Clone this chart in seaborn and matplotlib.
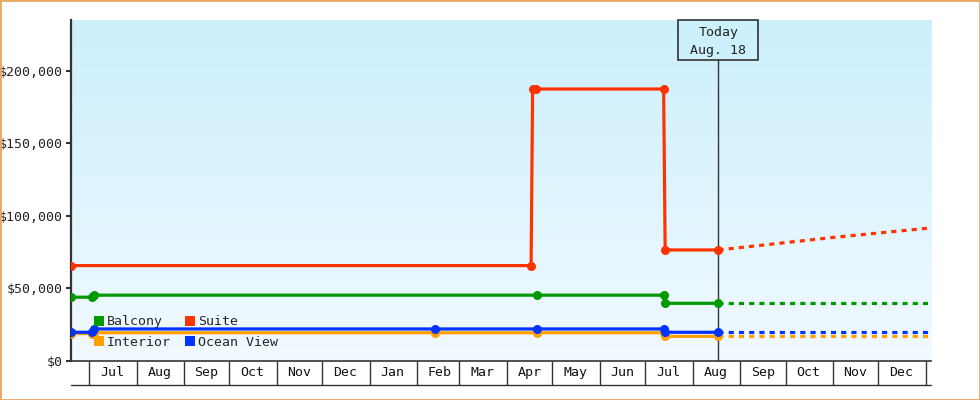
import numpy as np
import pandas as pd
import matplotlib
matplotlib.use('Agg')
import matplotlib.pyplot as plt
import matplotlib.dates as mdates
import matplotlib.ticker as mticker
from matplotlib.patches import Rectangle
from matplotlib.lines import Line2D
import seaborn as sns

# ---------------- data ----------------
balcony_dates = ['2012-06-19', '2012-07-03', '2012-07-04', '2013-04-21', '2013-07-13', '2013-07-14', '2013-08-18']
balcony_vals = [43800, 43800, 45200, 45200, 45200, 39600, 39600]

suite_dates = ['2012-06-19', '2013-04-17', '2013-04-18', '2013-04-20', '2013-07-13', '2013-07-14', '2013-08-18']
suite_vals = [65600, 65600, 187400, 187400, 187400, 76400, 76400]

ocean_dates = ['2012-06-19', '2012-07-03', '2012-07-04', '2013-02-13', '2013-04-21', '2013-07-13', '2013-07-14', '2013-08-18']
ocean_vals = [19600, 19600, 21900, 21900, 21900, 21900, 19600, 19600]

interior_dates = ['2012-06-19', '2012-07-03', '2012-07-04', '2013-02-13', '2013-04-21', '2013-07-13', '2013-07-14', '2013-08-18']
interior_vals = [18700, 18700, 19300, 19300, 19300, 19300, 16800, 16800]

forecast_dates = ['2013-08-18 00:00', '2013-11-01 00:00', '2014-01-04 12:00']
balcony_fc = [39600, 39600, 39600]
suite_fc = [76400, 85000, 91600]
ocean_fc = [19600, 19600, 19600]
interior_fc = [16800, 16800, 16800]

series_names = ['Interior', 'Ocean View', 'Balcony', 'Suite']
colors = {'Balcony': '#009900', 'Suite': '#ff3300', 'Interior': '#ffa000', 'Ocean View': '#0033ff'}
y_ticks = [0, 50000, 100000, 150000, 200000]
today = '2013-08-18'
today_label = 'Today\nAug. 18'
x_start, x_end = '2012-06-19 00:00', '2014-01-04 12:00'
y_max = 235000

# ---------------- style ----------------
sns.set_style('white')
plt.rcParams['font.family'] = ['DejaVu Sans Mono', 'DejaVu Sans']
plt.rcParams['font.size'] = 9.5
dark = '#333333'

fig = plt.figure(figsize=(9.8, 4.0), dpi=100)
W, H = 980, 400
ax = fig.add_axes([71 / W, 39.3 / H, 860 / W, 340.7 / H])

# gradient background
grad = np.linspace(0, 1, 256)[:, None]
top_c = np.array([0.80, 0.94, 0.99])
bot_c = np.array([0.945, 0.978, 1.0])
img = top_c[None, None, :] * (1 - grad[:, :, None]) + bot_c[None, None, :] * grad[:, :, None]
ax.imshow(img, extent=[0, 1, 0, 1], transform=ax.transAxes, aspect='auto', zorder=0)

data = {
    'Balcony': (balcony_dates, balcony_vals, balcony_fc),
    'Suite': (suite_dates, suite_vals, suite_fc),
    'Interior': (interior_dates, interior_vals, interior_fc),
    'Ocean View': (ocean_dates, ocean_vals, ocean_fc),
}

for name in series_names:
    d, v, fc = data[name]
    sns.lineplot(x=pd.to_datetime(d, format='ISO8601'), y=v, ax=ax, color=colors[name], lw=2.3,
                 marker='o', markersize=6.5, markeredgewidth=0, zorder=3, sort=False)
    sns.lineplot(x=pd.to_datetime(forecast_dates, format='ISO8601'), y=fc, ax=ax, color=colors[name], lw=2.3,
                 linestyle=(0, (1.6, 1.6)), zorder=3, sort=False)

ax.set_xlim(pd.Timestamp(x_start), pd.Timestamp(x_end))
ax.set_ylim(0, y_max)
ax.set_xlabel('')
ax.set_ylabel('')

# y axis
ax.set_yticks(y_ticks)
ax.yaxis.set_major_formatter(mticker.FuncFormatter(lambda v, p: '${:,.0f}'.format(v)))
ax.tick_params(axis='y', which='major', left=True, direction='out', length=3.8, width=1.5,
               color=dark, pad=2.4, labelsize=9.5, labelcolor='#222222')

# x axis: month boxes
ax.xaxis.set_major_locator(mdates.MonthLocator())
ax.xaxis.set_major_formatter(mticker.NullFormatter())
ax.xaxis.set_minor_locator(mdates.MonthLocator(bymonthday=16))
ax.xaxis.set_minor_formatter(mdates.DateFormatter('%b'))
ax.tick_params(axis='x', which='major', bottom=True, direction='out', length=17.5, width=1.0, color=dark)
ax.tick_params(axis='x', which='minor', bottom=True, length=0, pad=4.0, labelsize=9.5, labelcolor='#111111')

for s in ['top', 'right']:
    ax.spines[s].set_visible(False)
ax.spines['left'].set_color(dark)
ax.spines['left'].set_linewidth(1.6)
ax.spines['bottom'].set_color(dark)
ax.spines['bottom'].set_linewidth(1.2)

# bottom line of month boxes
box_bottom = -(385 - 360.7) / 340.7
ax.add_line(Line2D([0, 1], [box_bottom, box_bottom], transform=ax.transAxes, color=dark,
                   lw=1.0, clip_on=False))

# today line and box
t = mdates.date2num(pd.Timestamp(today))
xfrac = ax.transAxes.inverted().transform(ax.transData.transform((t, 0)))[0]
box_h = 40 / 340.7
box_w = 80 / 860
ax.axvline(pd.Timestamp(today), ymin=0, ymax=1 - box_h, color=dark, lw=1.0, zorder=2)
ax.add_patch(Rectangle((xfrac - box_w / 2, 1 - box_h), box_w, box_h, transform=ax.transAxes,
                       facecolor=(0.80, 0.94, 0.99), edgecolor=dark, lw=1.2, zorder=5, clip_on=False))
ax.text(xfrac, 1 - box_h / 2 - 0.004, today_label, transform=ax.transAxes, ha='center', va='center',
        multialignment='center', linespacing=1.45, fontsize=9.5, color='#222222', zorder=6)

# legend
order = ['Balcony', 'Interior', 'Suite', 'Ocean View']
handles = [Line2D([], [], linestyle='none', marker='s', markersize=7.6, markeredgewidth=0,
                  color=colors[n]) for n in order]
ax.legend(handles, order, ncol=2, loc='upper left', bbox_to_anchor=(0.026, 0.133),
          frameon=False, borderpad=0, borderaxespad=0, handlelength=0.8, handletextpad=0.2,
          columnspacing=1.1, labelspacing=0.55, fontsize=9.5)

# outer border
fig.add_artist(Rectangle((0, 0), 1, 1, transform=fig.transFigure, fill=False,
                         edgecolor='#e8a860', lw=2.0))

fig.savefig('out.png', dpi=100)
